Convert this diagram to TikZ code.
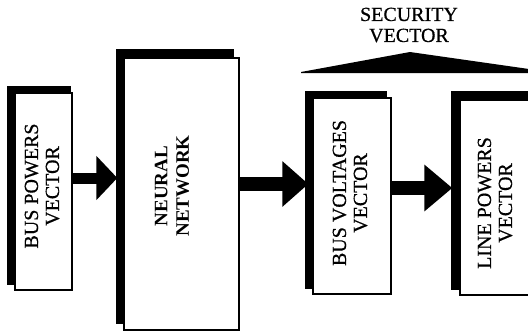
\documentclass[tikz,border=0pt]{standalone}
\usepackage{fontspec}
\setmainfont{Liberation Serif}
\newfontfamily\heavyserif{Liberation Serif}[FakeBold=0.6]
\usetikzlibrary{arrows.meta,calc}
\pgfdeclarelayer{bg}
\pgfsetlayers{bg,main}
\begin{document}
\begin{tikzpicture}[x=1pt,y=-1pt,
  front/.style={draw=black, line width=1.3pt, fill=white, inner sep=0pt},
  backshade/.style={fill=black},
  lbl/.style={rotate=90, align=center, inner sep=0pt, font=\heavyserif\fontsize{20}{21}\selectfont},
  toptext/.style={align=center, inner sep=0pt, font=\heavyserif\fontsize{20}{21}\selectfont},
  fat/.style={line width=14pt, -{Triangle[length=26pt,width=44pt]}},
]
\useasboundingbox (0,0) rectangle (528,335);

% boxes (front faces)
\node[front, minimum width=57pt, minimum height=197pt] (bp) at (43.5,191.5) {};
\node[front, minimum width=115pt, minimum height=272pt] (nn) at (181.5,194) {};
\node[front, minimum width=78pt, minimum height=196pt] (bv) at (352,196) {};
\node[front, minimum width=80pt, minimum height=195pt] (lp) at (500,197.5) {};

% dark backs
\begin{pgfonlayer}{bg}
  \fill[backshade] ($(bp.north west)+(-7,-6)$) rectangle ($(bp.south east)+(-2,-6)$);
  \fill[backshade] ($(nn.north west)+(-7,-8)$) rectangle ($(nn.south east)+(-6,-7)$);
  \fill[backshade] ($(bv.north west)+(-7,-6)$) rectangle ($(bv.south east)+(-5,-6)$);
  \fill[backshade] ($(lp.north west)+(-8,-8)$) rectangle ($(lp.south east)+(-6,-6)$);
\end{pgfonlayer}

% labels
\node[lbl] (bpt) at (42,186) {BUS POWERS\\VECTOR};
\node[lbl, font=\bfseries\fontsize{19}{21.5}\selectfont] (nnt) at (172,186) {NEURAL\\NETWORK};
\node[lbl] (bvt) at (350,193) {BUS VOLTAGES\\VECTOR};
\node[lbl] (lpt) at (495,203) {LINE POWERS\\VECTOR};
\node[toptext] (sv) at (409,25) {SECURITY\\VECTOR};

% wedge under the heading
\fill (301,72) -- (410,52) -- (529,69) -- (529,73) -- (301,73) -- cycle;

% fat arrows
\draw[fat, line width=11pt, -{Triangle[length=21pt,width=43pt]}, shorten >=6pt] (bp.east |- 0,178) -- (nn.west |- 0,178);
\draw[fat, shorten >=4pt] (nn.east |- 0,184) -- (bv.west |- 0,184);
\draw[fat, -{Triangle[length=28pt,width=45pt]}, shorten >=7pt] (bv.east |- 0,188) -- (lp.west |- 0,188);
\end{tikzpicture}
\end{document}
